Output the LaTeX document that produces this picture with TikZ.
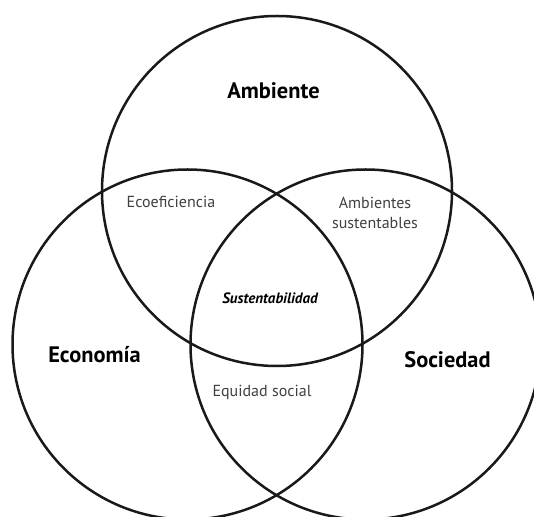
\documentclass[tikz,border=0pt]{standalone}
\usepackage{fontspec}
\setmainfont{PT Sans}
\usepackage{tikz}
\usetikzlibrary{positioning}

\begin{document}
\begin{tikzpicture}[
    x=0.5pt, y=-0.5pt,
    ring/.style={line width=1.25pt, black!90},
    area/.style={font=\fontsize{11.2}{13}\selectfont\bfseries},
    overlap/.style={font=\fontsize{8}{9.6}\selectfont, text=black!75, align=center},
    core/.style={font=\fontsize{7.5}{9}\selectfont\bfseries\itshape}
]
% ========== 画布范围 ==========
\useasboundingbox (0,0) rectangle (534,517);

% ========== 圆心与半径 ==========
\def\rad{175}
\coordinate (cAmb) at (277,191);
\coordinate (cEco) at (187.5,344.5);
\coordinate (cSoc) at (365.5,344.5);

% ========== 三个圆（超出画布部分裁掉） ==========
\begin{scope}
    \clip (0,0) rectangle (534,517);
    \draw[ring] (cAmb) circle (\rad);
    \draw[ring] (cEco) circle (\rad);
    \draw[ring] (cSoc) circle (\rad);
\end{scope}

% ========== 各领域名称 ==========
\node[area] (amb) at (273.5,91) {Ambiente};
\node[area] (eco) at (94.5,355) {Economía};
\node[area] (soc) at (447.5,360) {Sociedad};

% ========== 两两交集 ==========
\node[overlap] (ecoef) at (171,202) {Ecoeficiencia};
\node[overlap] (ambsus) at (375,213) {Ambientes\\sustentables};
\node[overlap] (equidad) at (262,392) {Equidad social};

% ========== 三者交集 ==========
\node[core] (sust) at (270,298) {Sustentabilidad};

\end{tikzpicture}
\end{document}
